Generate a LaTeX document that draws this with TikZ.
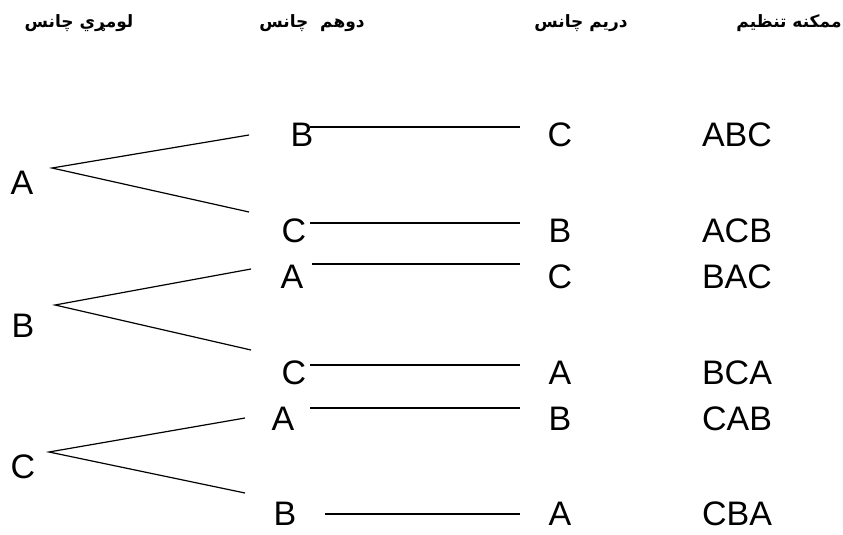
\documentclass[tikz,border=0pt]{standalone}
\usepackage{fontspec}
\setmainfont{Liberation Sans}
\newfontfamily\pashtofont[Script=Arabic]{DejaVu Sans}
\TeXXeTstate=1
\usepackage{tikz}
\usetikzlibrary{positioning}

\begin{document}
\begin{tikzpicture}
[x=1pt, y=-1pt,
letter/.style={inner sep=0pt, font=\fontsize{34}{36}\selectfont},
header/.style={inner sep=0pt, font=\pashtofont\bfseries\fontsize{17}{19}\selectfont},
branch/.style={line width=1.2pt},
link/.style={line width=1.2pt},]
\useasboundingbox (0,0) rectangle (843,535);

% headers
\node (h1) [header] at (79,23) {\beginR لومړي چانس\endR};
\node (h2) [header] at (312,23) {\beginR دوهم\ \ چانس\endR};
\node (h3) [header] at (581,23) {\beginR دریم چانس\endR};
\node (h4) [header] at (789,23) {\beginR ممکنه تنظیم\endR};

% first choice
\node (firstA) [letter] at (22,183) {A};
\node (firstB) [letter] at (23,326) {B};
\node (firstC) [letter] at (23,467) {C};

% second choice
\node (secB1) [letter] at (302,135) {B};
\node (secC1) [letter] at (294,231) {C};
\node (secA1) [letter] at (292,277) {A};
\node (secC2) [letter] at (294,373) {C};
\node (secA2) [letter] at (283,419) {A};
\node (secB2) [letter] at (285,514) {B};

% third choice
\node (thirdC1) [letter] at (560,135) {C};
\node (thirdB1) [letter] at (560,231) {B};
\node (thirdC2) [letter] at (560,277) {C};
\node (thirdA1) [letter] at (560,373) {A};
\node (thirdB2) [letter] at (560,419) {B};
\node (thirdA2) [letter] at (560,514) {A};

% arrangements
\node (pABC) [letter] at (737,135) {ABC};
\node (pACB) [letter] at (737,231) {ACB};
\node (pBAC) [letter] at (737,277) {BAC};
\node (pBCA) [letter] at (737,373) {BCA};
\node (pCAB) [letter] at (737,419) {CAB};
\node (pCBA) [letter] at (737,514) {CBA};

% branch points
\coordinate (tipA) at (52,168);
\coordinate (tipB) at (55,305);
\coordinate (tipC) at (49,452);
\coordinate (endA1) at (249,135);
\coordinate (endA2) at (249,212);
\coordinate (endB1) at (251,269);
\coordinate (endB2) at (251,350);
\coordinate (endC1) at (245,418);
\coordinate (endC2) at (245,493);

\draw [branch] (endA1) -- (tipA) -- (endA2);
\draw [branch] (endB1) -- (tipB) -- (endB2);
\draw [branch] (endC1) -- (tipC) -- (endC2);

% lines to third choice
\coordinate (l1) at (310,127); \coordinate (r1) at (520,127);
\coordinate (l2) at (310,223); \coordinate (r2) at (520,223);
\coordinate (l3) at (312,264); \coordinate (r3) at (520,264);
\coordinate (l4) at (310,365); \coordinate (r4) at (520,365);
\coordinate (l5) at (310,408); \coordinate (r5) at (520,408);
\coordinate (l6) at (325,514); \coordinate (r6) at (520,514);

\draw [link] (l1) -- (r1);
\draw [link] (l2) -- (r2);
\draw [link] (l3) -- (r3);
\draw [link] (l4) -- (r4);
\draw [link] (l5) -- (r5);
\draw [link] (l6) -- (r6);

\end{tikzpicture}
\end{document}
